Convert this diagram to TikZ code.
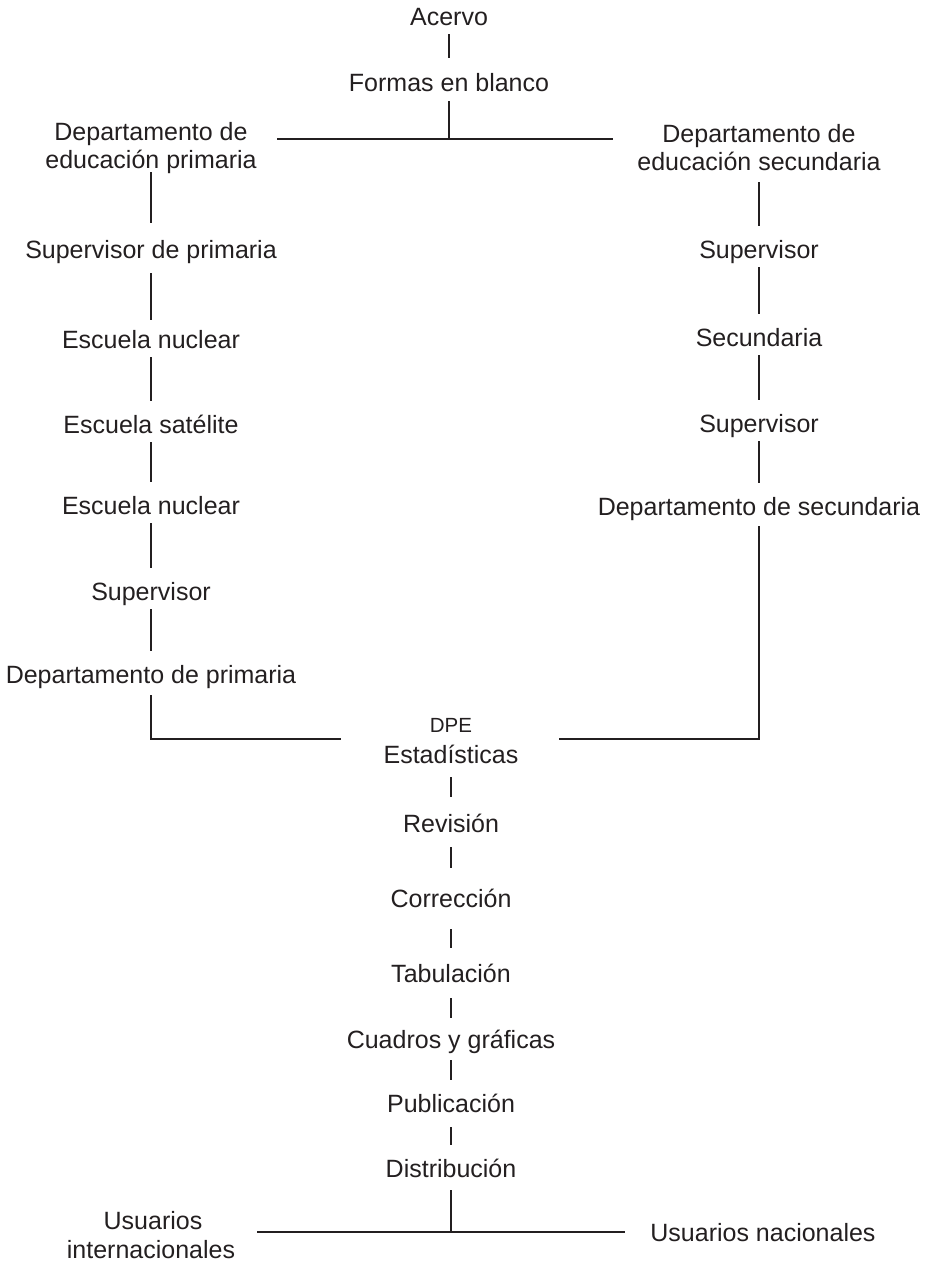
\documentclass[tikz,border=0pt]{standalone}
\usepackage{fontspec}
\setmainfont{Liberation Sans}
\usetikzlibrary{calc}
\definecolor{ink}{HTML}{231F20}
\tikzset{
  lbl/.style={font=\fontsize{25}{28}\selectfont, text=ink, inner sep=0pt, anchor=base, text height=18pt, text depth=0pt},
  small/.style={lbl, font=\fontsize{20.5}{24}\selectfont, text height=15pt},
  link/.style={draw=ink, line width=2.5pt, shorten <=9pt, shorten >=14pt},
  bar/.style={draw=ink, line width=2.5pt},
}
\begin{document}
\begin{tikzpicture}[x=1pt, y=-1pt]
\useasboundingbox (0,0) rectangle (930,1264);
% top
\node[lbl] (acervo) at (449,25) {Acervo};
\node[lbl] (formas) at (449,91) {Formas en blanco};
% left column
\node[lbl] (dpA) at (151,140) {Departamento de};
\node[lbl] (dpB) at (151,168) {educación primaria};
\node[lbl] (supp) at (151,258) {Supervisor de primaria};
\node[lbl] (escn1) at (151,348) {Escuela nuclear};
\node[lbl] (escs) at (151,433) {Escuela satélite};
\node[lbl] (escn2) at (151,514) {Escuela nuclear};
\node[lbl] (supl) at (151,600) {Supervisor};
\node[lbl] (dprim) at (151,683) {Departamento de primaria};
% right column
\node[lbl] (dsA) at (759,142) {Departamento de};
\node[lbl] (dsB) at (759,170) {educación secundaria};
\node[lbl] (supr1) at (759,258) {Supervisor};
\node[lbl] (secu) at (759,346) {Secundaria};
\node[lbl] (supr2) at (759,432) {Supervisor};
\node[lbl] (dsec) at (759,515) {Departamento de secundaria};
% centre column
\node[small] (dpe) at (451,732) {DPE};
\node[lbl] (estad) at (451,763) {Estadísticas};
\node[lbl] (revis) at (451,832) {Revisión};
\node[lbl] (correc) at (451,907) {Corrección};
\node[lbl] (tabul) at (451,982) {Tabulación};
\node[lbl] (cuadros) at (451,1048) {Cuadros y gráficas};
\node[lbl] (public) at (451,1112) {Publicación};
\node[lbl] (distrib) at (451,1177) {Distribución};
% bottom
\node[lbl] (uiA) at (153,1229) {Usuarios};
\node[lbl] (uiB) at (151,1258) {internacionales};
\node[lbl] (unac) at (763,1241) {Usuarios nacionales};
% junction coordinates
\coordinate (tl) at (277,139);
\coordinate (tr) at (613,139);
\coordinate (ml) at (341,739);
\coordinate (mr) at (559,739);
\coordinate (bl) at (257,1232);
\coordinate (br) at (625,1232);
% connectors
\draw[link, shorten >=15pt] (acervo.south) -- (formas.north);
\draw[bar] (tl) -- (tr);
\draw[bar, shorten <=10pt] (formas.south) -- (formas.south |- tl);
\draw[link, shorten <=4pt, shorten >=17pt] (dpB.south) -- (supp.north);
\draw[link, shorten <=15pt, shorten >=10pt] (supp.south) -- (escn1.north);
\draw[link] (escn1.south) -- (escs.north);
\draw[link] (escs.south) -- (escn2.north);
\draw[link] (escn2.south) -- (supl.north);
\draw[link] (supl.south) -- (dprim.north);
\draw[bar, shorten <=12pt] (dprim.south) -- (dprim.south |- ml) -- (ml);
\draw[link, shorten <=12pt] (dsB.south) -- (supr1.north);
\draw[link] (supr1.south) -- (secu.north);
\draw[link] (secu.south) -- (supr2.north);
\draw[link] (supr2.south) -- (dsec.north);
\draw[bar, shorten <=11pt] (dsec.south) -- (dsec.south |- mr) -- (mr);
\draw[link, shorten <=14pt, shorten >=17pt] (estad.south) -- (revis.north);
\draw[link, shorten <=15pt, shorten >=21pt] (revis.south) -- (correc.north);
\draw[link, shorten <=22pt, shorten >=16pt] (correc.south) -- (tabul.north);
\draw[link, shorten <=16pt, shorten >=12pt] (tabul.south) -- (cuadros.north);
\draw[link, shorten <=12pt, shorten >=14pt] (cuadros.south) -- (public.north);
\draw[link, shorten <=15pt, shorten >=14pt] (public.south) -- (distrib.north);
\draw[bar] (bl) -- (br);
\draw[bar, shorten <=13pt] (distrib.south) -- (distrib.south |- bl);
\end{tikzpicture}
\end{document}
